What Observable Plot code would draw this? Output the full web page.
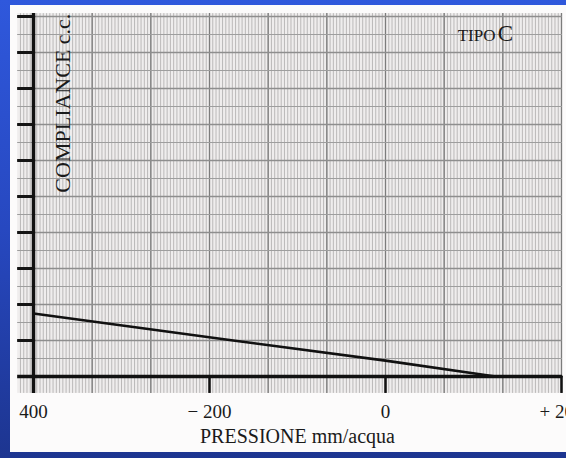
<!DOCTYPE html>
<html><head><meta charset="utf-8">
<script src="https://cdn.jsdelivr.net/npm/d3@7"></script>
<script src="https://cdn.jsdelivr.net/npm/@observablehq/plot@0.6"></script>
<style>
html,body{margin:0;padding:0;width:566px;height:458px;overflow:hidden;background:linear-gradient(to bottom,#2f58dc 0%,#2748c0 50%,#1d3590 100%);}
#paper{position:absolute;left:10px;top:5px;width:556px;height:447px;background:#fcfbfb;}
#chart{position:absolute;left:0;top:0;}
</style></head><body><div id="paper"></div><div id="chart"></div>
<script>
// Curve (tympanogram tipo C)
const pressure = [-400, -173, 0, 125, 200];
const compliance = [1.75, 1.0, 0.44, 0, 0];
// x axis ticks
const xTicks = [-400, -200, 0, 200];
const xTickLabels = ["400", "− 200", "0", "+ 200"];
// y axis (unlabelled) major marks
const yMajor = [1, 2, 3, 4, 5, 6, 7, 8, 9, 10];
const yMinor = [0.5, 1.5, 2.5, 3.5, 4.5, 5.5, 6.5, 7.5, 8.5, 9.5];
// graph paper extent
const paperX = [-418, 201];
const paperY = [-0.47, 10.08];

const majorStep = 200 / 3;
const minorStep = majorStep / 18;
const vMinor = d3.range(-114, 56).map(i => i * minorStep).filter(v => v >= paperX[0] && v <= paperX[1]);
const vMajor = d3.range(-6, 4).map(i => i * majorStep);
const curve = pressure.map((p, i) => ({p, c: compliance[i]}));

const chart = Plot.plot({
  width: 566, height: 458,
  marginLeft: 33, marginRight: 5, marginTop: 16, marginBottom: 82,
  x: {domain: [-400, 200]},
  y: {domain: [0, 10], axis: null},
  style: {background: "transparent", fontFamily: "'Liberation Serif', serif", color: "#1a1a1a"},
  marks: [
    Plot.rect({length: 1}, {x1: paperX[0], x2: paperX[1], y1: paperY[0], y2: paperY[1], fill: "#efeded"}),
    Plot.ruleX(vMinor, {y1: paperY[0], y2: paperY[1], stroke: "#b4b2b2", strokeWidth: 0.9}),
    Plot.ruleX(vMajor, {y1: paperY[0], y2: paperY[1], stroke: "#7c7c7c", strokeWidth: 1.3}),
    Plot.ruleY(yMinor, {x1: paperX[0], x2: paperX[1], stroke: "#9e9e9e", strokeWidth: 1.1}),
    Plot.ruleY(yMajor, {x1: paperX[0], x2: paperX[1], stroke: "#8e8e8e", strokeWidth: 1.3}),
    Plot.ruleY(yMajor, {x1: paperX[0], x2: -400, stroke: "#151515", strokeWidth: 3}),
    Plot.ruleY([0], {x1: paperX[0], x2: paperX[1], stroke: "#111", strokeWidth: 3.5}),
    Plot.ruleX([-400], {y1: paperY[0], y2: paperY[1], stroke: "#111", strokeWidth: 3.5}),
    Plot.ruleX(xTicks.slice(1), {y1: paperY[0], y2: 0, stroke: "#111", strokeWidth: 2.5}),
    Plot.line(curve, {x: "p", y: "c", stroke: "#111", strokeWidth: 2.6}),
    Plot.axisX(xTicks, {tickSize: 0, tickPadding: 28, fontSize: 19, label: null,
      tickFormat: d => xTickLabels[xTicks.indexOf(d)]}),
    Plot.text(["PRESSIONE mm/acqua"], {frameAnchor: "bottom", dy: 66, lineAnchor: "bottom", fontSize: 20, fill: "#1a1a1a", letterSpacing: "1.3px"}),
    Plot.text(["COMPLIANCE c.c."], {x: -359, y: paperY[1], rotate: -90, textAnchor: "end", lineAnchor: "bottom", fontSize: 22, fill: "#1a1a1a", dx: 0}),
    Plot.text(["TIPO"], {x: 125, y: 9.33, textAnchor: "end", lineAnchor: "bottom", fontSize: 17, fill: "#1a1a1a"}),
    Plot.text(["C"], {x: 127.5, y: 9.33, textAnchor: "start", lineAnchor: "bottom", fontSize: 23, fill: "#1a1a1a"})
  ]
});
document.getElementById("chart").appendChild(chart);
</script>
</body></html>
